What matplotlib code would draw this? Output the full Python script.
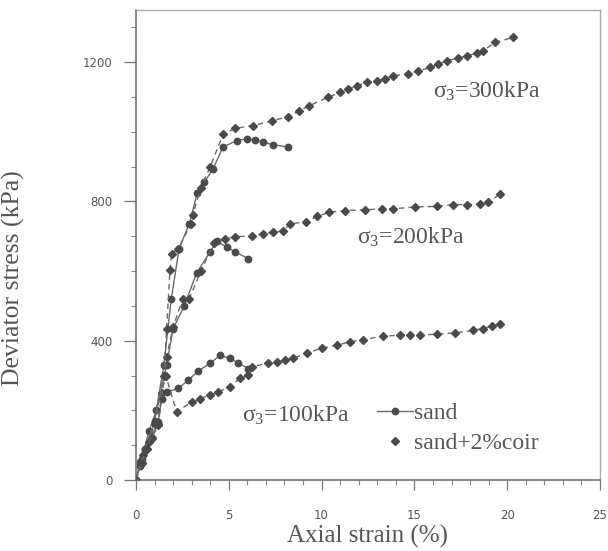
import matplotlib
matplotlib.use("Agg")
import matplotlib.pyplot as plt
from matplotlib.ticker import MultipleLocator
from matplotlib.lines import Line2D

# ---------------- data ----------------
sand100_x = [0, 0.22, 0.48, 0.85, 1.2, 1.38, 1.65, 2.28, 2.82, 3.36, 3.99, 4.53, 5.06, 5.51, 6.05]
sand100_y = [0, 52, 86, 120, 167, 234, 253, 263, 287, 313, 335, 358, 349, 336, 320]

coir100_x = [0, 0.39, 0.85, 1.2, 1.38, 1.6, 2.19, 3.0, 3.45, 3.99, 4.43, 5.06, 5.6, 6.05, 6.23,
             7.13, 7.58, 8.03, 8.48, 9.2, 10.0, 10.81, 11.53, 12.25, 13.32, 14.22, 14.76, 15.3,
             16.2, 17.19, 18.17, 18.71, 19.17, 19.61]
coir100_y = [0, 72, 120, 158, 249, 300, 196, 224, 234, 244, 253, 268, 292, 301, 325,
             336, 339, 344, 349, 365, 378, 387, 397, 403, 413, 416, 416, 416,
             419, 422, 430, 435, 442, 449]

sand200_x = [0, 0.3, 0.7, 1.1, 1.65, 2.0, 2.6, 3.27, 3.99, 4.35, 4.89, 5.33, 6.05]
sand200_y = [0, 60, 140, 200, 330, 435, 500, 595, 655, 686, 669, 655, 636]

coir200_x = [0, 0.3, 0.7, 1.2, 1.65, 2.0, 2.52, 2.87, 3.5, 4.2, 4.8, 5.33, 6.23, 6.86, 7.40,
             7.9, 8.30, 9.16, 9.74, 10.42, 11.26, 12.34, 13.24, 13.86, 15.03, 16.2, 17.1,
             17.82, 18.53, 18.98, 19.6]
coir200_y = [0, 50, 110, 160, 354, 440, 521, 521, 600, 680, 693, 698, 702, 707, 712,
             715, 736, 741, 757, 769, 774, 776, 779, 779, 784, 786, 791,
             791, 793, 798, 820]

sand300_x = [0, 0.2, 0.5, 1.0, 1.5, 1.9, 2.32, 2.87, 3.3, 3.68, 4.16, 4.68, 5.43, 5.96,
             6.41, 6.86, 7.40, 8.2]
sand300_y = [0, 40, 90, 170, 330, 520, 664, 736, 824, 855, 894, 956, 975, 980,
             977, 970, 963, 956]

coir300_x = [0, 0.3, 0.6, 1.0, 1.5, 1.65, 1.83, 1.92, 2.28, 2.96, 3.05, 3.5, 4.0, 4.7, 5.33,
             6.32, 7.31, 8.2, 8.8, 9.34, 10.33, 11.0, 11.44, 11.89, 12.43, 12.97, 13.42,
             13.86, 14.67, 15.21, 15.84, 16.29, 16.74, 17.37, 17.82, 18.36, 18.71, 19.34, 20.33]
coir300_y = [0, 50, 90, 160, 300, 435, 602, 650, 664, 736, 760, 840, 900, 994, 1010,
             1018, 1032, 1043, 1061, 1075, 1099, 1113, 1123, 1132, 1142, 1147, 1153,
             1161, 1166, 1175, 1185, 1195, 1204, 1212, 1218, 1226, 1233, 1257, 1271]

labels = ["σ$_3$=300kPa", "σ$_3$=200kPa", "σ$_3$=100kPa"]
label_pos = [(16.0, 1115), (11.9, 697), (5.7, 186)]
legend_names = ["sand", "sand+2%coir"]

# ---------------- style ----------------
plt.rcParams["mathtext.fontset"] = "custom"
plt.rcParams["mathtext.rm"] = "Liberation Serif"
plt.rcParams["mathtext.it"] = "Liberation Serif"
plt.rcParams["mathtext.default"] = "rm"
serif = ["Liberation Serif", "DejaVu Serif"]
ink = "#4a4a4a"
linec = "#6a6a6a"
txt = "#555555"

fig = plt.figure(figsize=(6.08, 5.51), dpi=100)
ax = fig.add_axes([0.2237, 0.1289, 0.7631, 0.853])

sand_kw = dict(color=linec, lw=1.0, marker="o", ms=4.6, mfc=ink, mec=ink, ls="-")
coir_kw = dict(color=linec, lw=1.0, marker="D", ms=3.8, mfc=ink, mec=ink, ls=(0, (4, 3)))

for xs, ys in [(sand100_x, sand100_y), (sand200_x, sand200_y), (sand300_x, sand300_y)]:
    ax.plot(xs, ys, **sand_kw)
for xs, ys in [(coir100_x, coir100_y), (coir200_x, coir200_y), (coir300_x, coir300_y)]:
    ax.plot(xs, ys, **coir_kw)

for t, (x, y) in zip(labels, label_pos):
    ax.text(x, y, t, family=serif, fontsize=17, color=txt, va="center", ha="left")

ax.set_xlim(0, 25)
ax.set_ylim(0, 1350)
ax.xaxis.set_major_locator(MultipleLocator(5))
ax.xaxis.set_minor_locator(MultipleLocator(1))
ax.yaxis.set_major_locator(MultipleLocator(400))
ax.yaxis.set_minor_locator(MultipleLocator(100))
ax.tick_params(which="major", length=7, width=0.9, color="#777777", labelsize=8.5,
               labelcolor=txt)
ax.tick_params(axis="x", which="major", pad=14)
ax.tick_params(axis="y", which="major", length=9, pad=8)
ax.tick_params(which="minor", length=3.5, width=0.8, color="#888888")

for s in ["left", "bottom"]:
    ax.spines[s].set_color("#666666")
    ax.spines[s].set_linewidth(1.1)
for s in ["top", "right"]:
    ax.spines[s].set_color("#aaaaaa")
    ax.spines[s].set_linewidth(1.0)

ax.set_xlabel("Axial strain (%)", family=serif, fontsize=18, color=txt, labelpad=2)
ax.set_ylabel("Deviator stress (kPa)", family=serif, fontsize=18.5, color=txt)
ax.yaxis.set_label_coords(-0.24, 0.43)

handles = [Line2D([], [], **sand_kw),
           Line2D([], [], color=ink, marker="D", ms=4.5, mfc=ink, mec=ink, ls="none")]
leg = ax.legend(handles, legend_names, loc="upper left", bbox_to_anchor=(0.5, 0.185),
                frameon=False, handlelength=1.5, handletextpad=0.05, labelspacing=0.35,
                borderaxespad=0, prop={"family": serif, "size": 17})
for t in leg.get_texts():
    t.set_color(txt)

fig.savefig("out.png", dpi=100)
